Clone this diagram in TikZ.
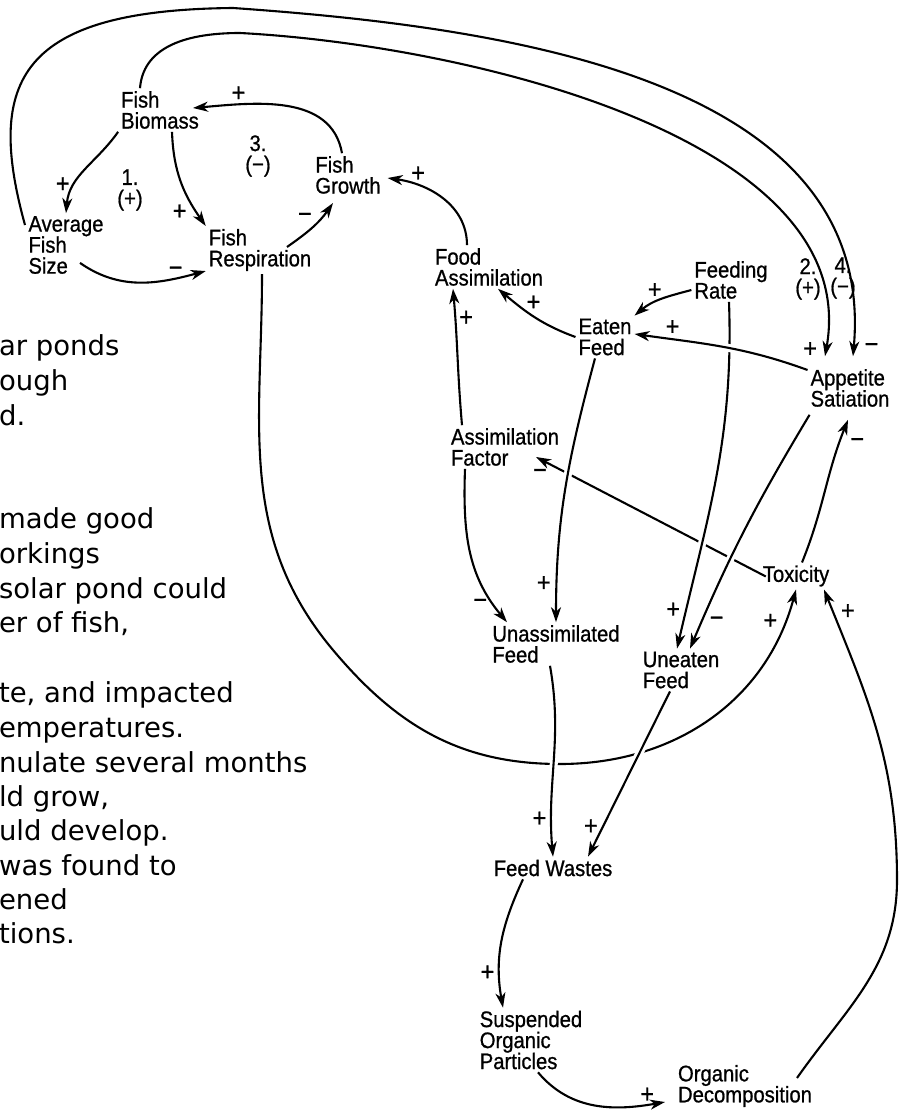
\documentclass[tikz,border=0pt]{standalone}
\usepackage{fontspec}
\usetikzlibrary{arrows.meta, positioning}
\newfontfamily\lblfont[FakeBold=0.8, FakeStretch=0.9]{Liberation Sans}
\newfontfamily\txtfont{DejaVu Sans}

\begin{document}
\begin{tikzpicture}[x=1pt, y=1pt, line width=2.1pt,
    >={Stealth[length=15pt, width=10pt, inset=4.5pt]},
    var/.style={align=left, inner sep=2pt, font=\lblfont\fontsize{22.5}{21}\selectfont},
    sign/.style={inner sep=1pt, font=\lblfont\fontsize{26}{26}\selectfont},
    para/.style={inner sep=0pt, font=\txtfont\fontsize{27.5}{34.7}\selectfont},
    over/.style={preaction={draw=white, line width=8pt, -}}]
    \useasboundingbox (0,0) rectangle (906,-1113);
    \fill[white] (0,0) rectangle (906,-1113);

    % left page text, cut at the margin
    \foreach \y/\txt [count=\i] in {355/ar ponds, 390/ough, 425/d., 528/made good,
        563/orkings, 598/solar pond could, {632/er of fish,}, {702/te, and impacted},
        737/emperatures., 772/nulate several months, {806/ld grow,}, 840/uld develop.,
        875/was found to, 909/ened, 943/tions.}
        \node[para, anchor=base west] (line_\i) at (-2,-\y) {\txt};

    % variables
    \node[var] (fish_bio) at (160,-110) {Fish\\Biomass};
    \node[var] (avg_size) at (66,-245) {Average\\Fish\\Size};
    \node[var] (fish_resp) at (260,-250) {Fish\\Respiration};
    \node[var] (fish_grow) at (348,-175) {Fish\\Growth};
    \node[var] (food_ass) at (489,-267) {Food\\Assimilation};
    \node[var] (feed_rate) at (731,-280) {Feeding\\Rate};
    \node[var] (eaten) at (605,-337) {Eaten\\Feed};
    \node[var] (appetite) at (850,-388) {Appetite\\Satiation};
    \node[var] (ass_fac) at (505,-447) {Assimilation\\Factor};
    \node[var] (toxicity) at (796,-576) {Toxicity};
    \node[var] (unass) at (556,-644) {Unassimilated\\Feed};
    \node[var] (uneaten) at (681,-670) {Uneaten\\Feed};
    \node[var] (wastes) at (553,-868) {Feed Wastes};
    \node[var] (susp) at (531,-1040) {Suspended\\Organic\\Particles};
    \node[var] (decomp) at (745,-1086) {Organic\\Decomposition};

    % loop numbers
    \node[var, align=center] (loop_1) at (130,-190) {1.\\(+)};
    \node[var, align=center] (loop_3) at (258,-156) {3.\\(−)};
    \node[var, align=center] (loop_2) at (808,-279) {2.\\(+)};
    \node[var, align=center] (loop_4) at (843,-278) {4.\\(−)};

    % fish loops
    \path[->]
        (fish_bio.south west) edge[out=235, in=85] node[sign, pos=0.7, left=3pt] {+} (avg_size.north)
        ([xshift=12pt]fish_bio.south) edge[out=-88, in=125] node[sign, pos=0.85, left=8pt] {+} (fish_resp.north west)
        ([shift={(14pt,14pt)}]avg_size.south) edge[out=-35, in=195] node[sign, pos=0.78, above=0pt] {−} ([yshift=3pt]fish_resp.south west)
        ([shift={(27pt,3pt)}]fish_resp.center) edge[out=35, in=235] node[sign, pos=0.55, above left=1pt] {−} ([shift={(-15pt,-28pt)}]fish_grow.center)
        ([xshift=-6pt]fish_grow.north) edge[out=100, in=5] node[sign, pos=0.76, above=1pt] {+} ([shift={(33pt,2pt)}]fish_bio.center);

    % long arcs to appetite
    \draw[->] ([shift={(-41pt,20pt)}]avg_size.center) .. controls (-15,-80) and (20,-10) .. (233,-8)
        to[out=-4, in=85] node[sign, pos=0.99, right=9pt] {−} ([shift={(3pt,10pt)}]appetite.north);
    \draw[->] ([xshift=-20pt]fish_bio.north) .. controls (143,-50) and (180,-33) .. (240,-33)
        to[out=-3, in=80, looseness=0.85] node[sign, pos=0.99, left=7pt] {+} ([shift={(-25pt,10pt)}]appetite.north);

    % feed and assimilation
    \path[->]
        ([xshift=-22pt]food_ass.north) edge[out=90, in=-8] node[sign, pos=0.74, above=2pt] {+} ([shift={(4pt,-3pt)}]fish_grow.east)
        (eaten.west) edge[out=160, in=-40] node[sign, pos=0.62, above right=-2pt] {+} ([xshift=9pt]food_ass.south)
        ([xshift=-43pt]ass_fac.north) edge[out=95, in=-85] node[sign, pos=0.8, right=2pt] {+} ([xshift=-36pt]food_ass.south)
        ([yshift=-10pt]feed_rate.west) edge[out=195, in=40] node[sign, pos=0.62, above=2pt] {+} (eaten.north east)
        ([shift={(6pt,-14pt)}]toxicity.north west) edge node[sign, pos=1, below=10pt, xshift=4pt] {−} ([shift={(31pt,-10pt)}]ass_fac.center);

    % respiration to toxicity
    \draw[->] ([xshift=2pt]fish_resp.south) to[out=-90, in=130] (333,-650) to[out=-50, in=180] (560,-764)
        to[out=0, in=-105] node[sign, pos=0.9, left=6pt] {+} (toxicity.south);

    \path[->]
        ([xshift=-2pt]feed_rate.south) edge[over, out=-88, in=77] node[sign, pos=0.9, left=4pt] {+} ([xshift=-4pt]uneaten.north)
        ([shift={(2pt,-5pt)}]appetite.south west) edge[over, out=-121, in=67] node[sign, pos=0.9, right=6pt] {−} ([xshift=9pt]uneaten.north)
        ([xshift=-10pt]eaten.south) edge[over, out=-105, in=90] node[sign, pos=0.87, left=4pt] {+} (unass.north)
        ([xshift=-40pt]ass_fac.south) edge[out=-92, in=130] node[sign, pos=0.87, left=4pt] {−} ([xshift=-49pt]unass.north)
        ([yshift=18pt]appetite.west) edge[over, out=160, in=-8] node[sign, pos=0.8, above=2pt] {+} ([yshift=3pt]eaten.east)
        ([xshift=6pt]toxicity.north) edge[out=68, in=-112] node[sign, pos=0.85, right=9pt] {−} ([shift={(-2pt,-10pt)}]appetite.south);

    % wastes and decomposition
    \path[->]
        ([xshift=-6pt]unass.south) edge[over, out=-80, in=95] node[sign, pos=0.82, left=3pt] {+} (wastes.north)
        ([xshift=-11pt]uneaten.south) edge[over] node[sign, pos=0.82, left=3pt] {+} ([xshift=35pt]wastes.north)
        ([xshift=-30pt]wastes.south) edge[out=-115, in=100] node[sign, pos=0.75, left=3pt] {+} ([xshift=-28pt]susp.north)
        ([xshift=7pt]susp.south) edge[out=-50, in=190] node[sign, pos=0.88, above=0pt] {+} ([shift={(-10pt,-16pt)}]decomp.west);
    \draw[->] ([shift={(52pt,8pt)}]decomp.center) to[out=55, in=-90] (897,-880)
        to[out=90, in=-68] node[sign, pos=0.93, right=6pt] {+} ([xshift=28pt]toxicity.south);
\end{tikzpicture}
\end{document}
